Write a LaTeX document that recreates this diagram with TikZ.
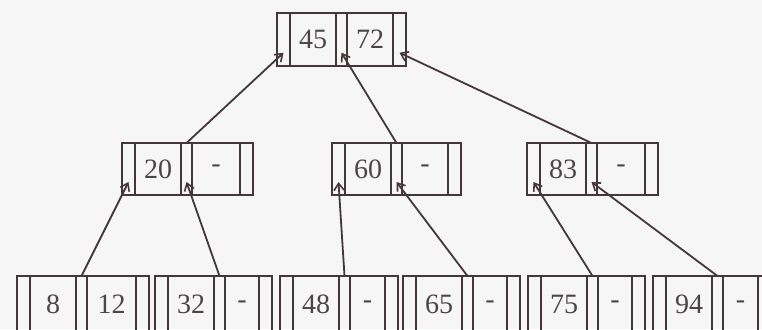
\documentclass[tikz,border=0pt]{standalone}
\usepackage{fontspec}
\setmainfont{Liberation Serif}
\usetikzlibrary{positioning,calc,arrows.meta}
\definecolor{inkline}{HTML}{45363A}
\definecolor{inktext}{HTML}{4C4547}
\definecolor{paper}{HTML}{F6F6F6}
\begin{document}
\begin{tikzpicture}[x=1pt,y=-1pt,
    cell/.style={draw=inkline,line width=1.6pt,inner sep=0pt,outer sep=0pt},
    ptrcell/.style={cell},
    keycell/.style={cell,text=inktext,font=\fontsize{28}{30}\selectfont},
    frame/.style={draw=inkline,line width=2.2pt},
    link/.style={draw=inkline,line width=1.8pt,-{Straight Barb[length=7pt,width=10pt,line width=1.6pt]}}]
    \fill[paper] (0,0) rectangle (762,329);
    \useasboundingbox (0,0) rectangle (762,329);
    \foreach \nm/\x/\y/\h/\ka/\kb/\w in {root/277/13/53/45/72/46, n20/122/143/52/20/-/48,
        n60/332/143/52/60/-/46, n83/527/143/52/83/-/48, n8/17/276/57/8/12/49,
        n32/155/276/57/32/-/34, n48/280/276/57/48/-/35, n65/403/276/57/65/-/34,
        n75/528/276/57/75/-/34, n94/653/276/57/94/-/35} {
        \node[ptrcell,minimum height=\h pt,minimum width=13pt,anchor=north west] (\nm-p0) at (\x,\y) {};
        \node[keycell,minimum height=\h pt,minimum width=46pt,right=0pt of \nm-p0] (\nm-k0) {\ka};
        \node[ptrcell,minimum height=\h pt,minimum width=11pt,right=0pt of \nm-k0] (\nm-p1) {};
        \node[keycell,minimum height=\h pt,minimum width=\w pt,right=0pt of \nm-p1] (\nm-k1) {\kb};
        \node[ptrcell,minimum height=\h pt,minimum width=13pt,right=0pt of \nm-k1] (\nm-p2) {};
        \draw[frame] (\nm-p0.north west) rectangle (\nm-p2.south east);
        \foreach \i in {0,1,2}
            \coordinate (\nm-t\i) at ($(\nm-p\i.north)!.75!(\nm-p\i.south)$);
    }
    \foreach \child/\parent in {n20/root-t0, n60/root-t1, n83/root-t2, n8/n20-t0, n32/n20-t1,
        n48/n60-t0, n65/n60-t1, n75/n83-t0, n94/n83-t1}
        \draw[link] (\child-p1.north) -- (\parent);
\end{tikzpicture}
\end{document}
